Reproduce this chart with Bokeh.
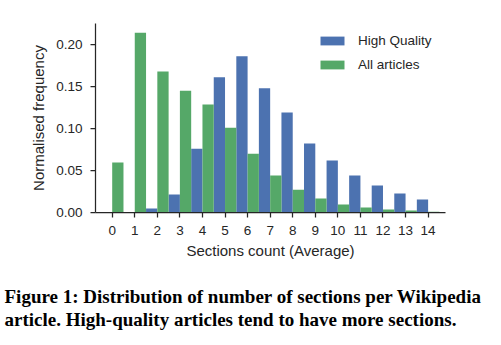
from bokeh.plotting import figure
from bokeh.models import (FixedTicker, PrintfTickFormatter, Legend, LegendItem,
                          Title, Range1d, ColumnDataSource)
from bokeh.transform import dodge
from bokeh.embed import file_html
from bokeh.resources import INLINE

sections = list(range(15))
high_quality = [0.0, 0.0, 0.0048, 0.0214, 0.076, 0.161, 0.186, 0.148, 0.119,
                0.082, 0.062, 0.044, 0.032, 0.0226, 0.0155]
all_articles = [0.0595, 0.214, 0.168, 0.145, 0.1286, 0.101, 0.070, 0.044, 0.027,
                0.0167, 0.0095, 0.006, 0.0036, 0.0024, 0.001]
y_ticks = [0.0, 0.05, 0.10, 0.15, 0.20]
series_names = ["High Quality", "All articles"]
caption_lines = ["Figure 1: Distribution of number of sections per Wikipedia",
                 "article. High-quality articles tend to have more sections."]

BLUE = "#4C72B0"
GREEN = "#55A868"
DARK = "#262626"

src = ColumnDataSource(dict(x=sections, hq=high_quality, aa=all_articles))

p = figure(frame_width=350, frame_height=189, output_backend="svg",
           toolbar_location=None,
           x_range=Range1d(-0.74, 14.77), y_range=Range1d(0, 0.225),
           min_border_left=95, min_border_right=48, min_border_top=23,
           min_border_bottom=0)
p.outline_line_color = None
p.xgrid.visible = False
p.ygrid.visible = False

r1 = p.vbar(x=dodge("x", -0.25, range=p.x_range), top="hq", width=0.5, source=src,
            fill_color=BLUE, line_color=None)
r2 = p.vbar(x=dodge("x", 0.25, range=p.x_range), top="aa", width=0.5, source=src,
            fill_color=GREEN, line_color=None)

for ax in (p.xaxis[0], p.yaxis[0]):
    ax.axis_line_color = DARK
    ax.axis_line_width = 1.25
    ax.major_tick_line_color = DARK
    ax.major_tick_line_width = 1.25
    ax.major_tick_in = 0
    ax.major_tick_out = 5
    ax.minor_tick_line_color = None
    ax.major_label_text_font = "Liberation Sans"
    ax.major_label_text_font_size = "13.5px"
    ax.major_label_text_color = DARK
    ax.axis_label_text_font = "Liberation Sans"
    ax.axis_label_text_font_size = "15px"
    ax.axis_label_text_font_style = "normal"
    ax.axis_label_text_color = DARK

p.xaxis.ticker = FixedTicker(ticks=sections)
p.xaxis.axis_label = "Sections count (Average)"
p.xaxis.major_label_standoff = 8
p.xaxis.axis_label_standoff = 4
p.yaxis.ticker = FixedTicker(ticks=y_ticks)
p.yaxis.formatter = PrintfTickFormatter(format="%.2f")
p.yaxis.axis_label = "Normalised frequency"
p.yaxis.major_label_standoff = 8
p.yaxis.axis_label_standoff = 6

legend = Legend(items=[LegendItem(label=series_names[0], renderers=[r1]),
                       LegendItem(label=series_names[1], renderers=[r2])],
                location=(222, 140), padding=0, margin=0, spacing=9,
                glyph_width=30, glyph_height=11, label_height=11,
                label_standoff=11, border_line_color=None,
                background_fill_alpha=0,
                label_text_font="Liberation Sans", label_text_font_size="13.5px",
                label_text_color=DARK)
p.add_layout(legend, "center")

p.add_layout(Title(text="\n".join(caption_lines), align="left", offset=-91,
                   standoff=45, text_line_height=1.1,
                   text_font="Liberation Serif", text_font_style="bold",
                   text_font_size="19px", text_color="black"), "below")

open("out.html", "w").write(file_html(p, INLINE))
